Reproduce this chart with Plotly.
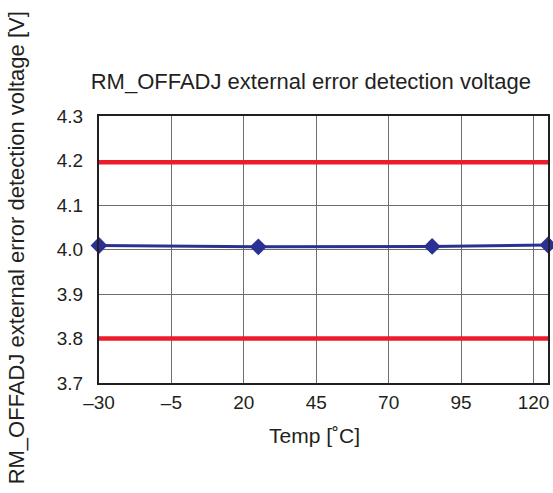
import plotly.graph_objects as go

temps = [-30, 25, 85, 125]
voltage = [4.009, 4.006, 4.007, 4.010]
limit_x = [-30, 125]
upper_limit = [4.196, 4.196]
lower_limit = [3.8, 3.8]
x_ticks = [-30, -5, 20, 45, 70, 95, 120]
x_tick_labels = ["\u201330", "\u20135", "20", "45", "70", "95", "120"]
y_ticks = [3.7, 3.8, 3.9, 4.0, 4.1, 4.2, 4.3]
y_tick_labels = ["3.7", "3.8", "3.9", "4.0", "4.1", "4.2", "4.3"]

FONT = "Liberation Sans, Arial, Helvetica, sans-serif"
RED = "#ee1c2b"
BLUE = "#2b3192"

fig = go.Figure()
fig.add_trace(go.Scatter(x=limit_x, y=upper_limit, mode="lines",
                         line=dict(color=RED, width=4.5), showlegend=False, hoverinfo="skip"))
fig.add_trace(go.Scatter(x=limit_x, y=lower_limit, mode="lines",
                         line=dict(color=RED, width=4.5), showlegend=False, hoverinfo="skip"))
fig.add_trace(go.Scatter(x=temps, y=voltage, mode="lines+markers",
                         line=dict(color=BLUE, width=3),
                         marker=dict(symbol="diamond", size=13, color=BLUE),
                         cliponaxis=False, showlegend=False))

fig.update_layout(
    width=553, height=493,
    margin=dict(l=99, r=3, t=116, b=110),
    paper_bgcolor="white", plot_bgcolor="white",
    font=dict(family=FONT, size=19, color="#231f20"),
    title=dict(text="RM_OFFADJ external error detection voltage",
               xref="container", yref="container",
               x=310.8 / 553, y=1 - 81.7 / 493,
               xanchor="center", yanchor="middle",
               font=dict(family=FONT, size=22, color="#231f20")),
    xaxis=dict(range=[-30, 125], tickvals=x_ticks, ticktext=x_tick_labels,
               showgrid=True, gridcolor="#6e6e6e", gridwidth=1,
               showline=True, linecolor="#231f20", linewidth=2, mirror=True,
               ticks="outside", ticklen=1, tickcolor="rgba(0,0,0,0)",
               zeroline=False, tickfont=dict(size=19)),
    yaxis=dict(range=[3.7, 4.3], tickvals=y_ticks, ticktext=y_tick_labels,
               showgrid=True, gridcolor="#6e6e6e", gridwidth=1,
               showline=True, linecolor="#231f20", linewidth=2, mirror=True,
               ticks="outside", ticklen=10, tickcolor="rgba(0,0,0,0)",
               zeroline=False, tickfont=dict(size=19)),
    annotations=[
        dict(text="Temp [\u02daC]", xref="paper", yref="paper",
             x=(315 - 99) / 451, y=(383 - 435) / 267,
             xanchor="center", yanchor="middle", showarrow=False,
             font=dict(family=FONT, size=21, color="#231f20")),
        dict(text="RM_OFFADJ external error detection voltage [V]",
             xref="paper", yref="paper",
             x=(16 - 99) / 451, y=(383 - 248) / 267, textangle=-90,
             xanchor="center", yanchor="middle", showarrow=False,
             font=dict(family=FONT, size=22, color="#231f20")),
    ],
)

fig.write_html("out.html",
               config={"displayModeBar": False},
               post_script="document.body.style.margin='0';document.body.style.overflow='hidden';")
